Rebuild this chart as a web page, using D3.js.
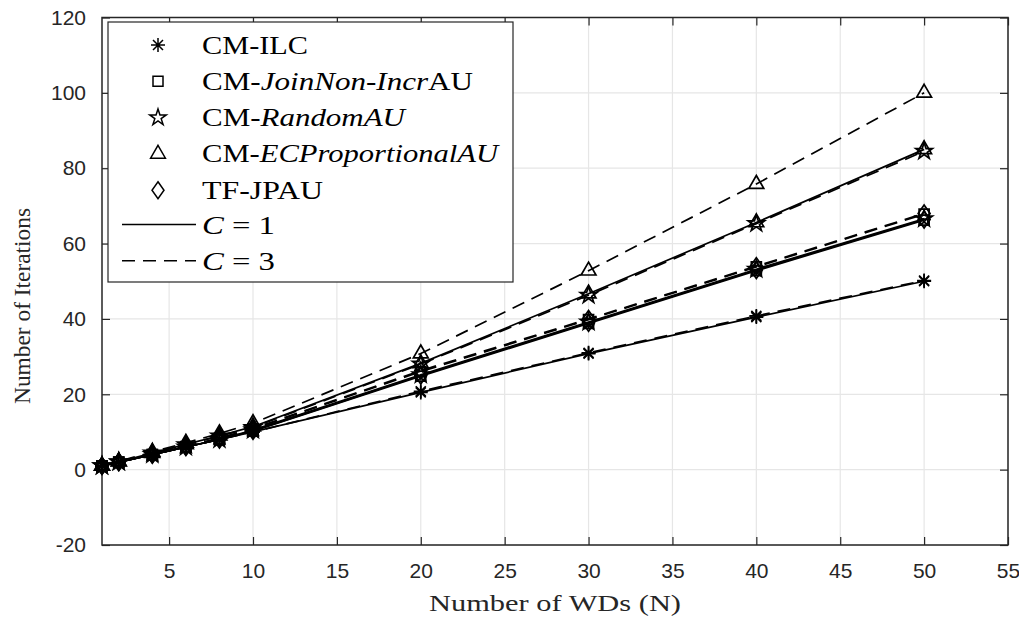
<!DOCTYPE html>
<html>
<head>
<meta charset="utf-8">
<script src="https://cdn.jsdelivr.net/npm/d3@7"></script>
<style>
  body { margin: 0; background: #fff; }
  svg { display: block; }
  .tick text { font-family: "Liberation Sans", Arial, sans-serif; font-size: 21px; fill: #262626; }
</style>
</head>
<body>
<div id="chart"></div>
<script>
// data
var nodes = [1, 2, 4, 6, 8, 10, 20, 30, 40, 50];
var xTicks = [5, 10, 15, 20, 25, 30, 35, 40, 45, 50, 55];
var yTicks = [-20, 0, 20, 40, 60, 80, 100, 120];

var ilcC1 = [1, 2, 4, 6, 8, 10, 20.5, 30.8, 40.5, 50];
var ilcC3 = [1, 2, 4, 6, 8, 10, 20.8, 31, 40.8, 50.2];
var joinC1 = [1, 2, 4, 6, 8, 10.2, 24.8, 38.8, 52.8, 66.2];
var joinC3 = [1, 2, 4, 6.1, 8.3, 10.8, 26, 39.8, 53.8, 67.8];
var randC1 = [1, 2, 4, 6, 8, 10.5, 25.2, 39.2, 53.2, 66.6];
var randC3 = [1, 2.1, 4.4, 6.6, 8.9, 11.2, 28, 46.3, 65.3, 84.5];
var ecpC1 = [1, 2.1, 4.4, 6.7, 9, 11.4, 28.2, 46.7, 65.6, 85];
var ecpC3 = [1, 2.2, 4.7, 7.1, 9.6, 12.3, 30.8, 52.8, 75.8, 100];
var jpauC1 = [1, 2, 4, 6, 8, 10.3, 25, 39, 53, 66.4];
var jpauC3 = [1, 2, 4, 6.2, 8.4, 10.9, 26.3, 40, 54, 68];

var seriesList = [
  { marker: "asterisk", dash: false, values: ilcC1 },
  { marker: "asterisk", dash: true, values: ilcC3 },
  { marker: "square", dash: false, values: joinC1 },
  { marker: "square", dash: true, values: joinC3 },
  { marker: "star", dash: false, values: randC1 },
  { marker: "star", dash: true, values: randC3 },
  { marker: "triangle", dash: false, values: ecpC1 },
  { marker: "triangle", dash: true, values: ecpC3 },
  { marker: "diamond", dash: false, values: jpauC1 },
  { marker: "diamond", dash: true, values: jpauC3 }
];

// legend labels: pieces of [text, italic]
var legendMarkers = ["asterisk", "square", "star", "triangle", "diamond"];
var legendLabels = [
  [["CM-ILC", false]],
  [["CM-", false], ["JoinNon-Incr", true], ["AU", false]],
  [["CM-", false], ["RandomAU", true]],
  [["CM-", false], ["ECProportionalAU", true]],
  [["TF-JPAU", false]]
];
var legendLengths = [106, 271, 203, 296, 121];

// chart setup
var svgWidth = 1019;
var svgHeight = 617;
var margin = { top: 17.5, right: 11, bottom: 72, left: 102 };
var width = svgWidth - margin.left - margin.right;
var height = svgHeight - margin.top - margin.bottom;
var axisColor = "#262626";
var serif = "'Liberation Serif', 'Times New Roman', serif";

var svg = d3.select("#chart")
  .append("svg")
  .attr("width", svgWidth)
  .attr("height", svgHeight);

var chartGroup = svg.append("g")
  .attr("transform", `translate(${margin.left}, ${margin.top})`);

var xScale = d3.scaleLinear().domain([1, 55]).range([0, width]);
var yScale = d3.scaleLinear().domain([-20, 120]).range([height, 0]);

// grid
chartGroup.append("g")
  .selectAll("line")
  .data(xTicks)
  .enter()
  .append("line")
  .attr("x1", d => xScale(d)).attr("x2", d => xScale(d))
  .attr("y1", 0).attr("y2", height)
  .attr("stroke", "#e6e6e6").attr("stroke-width", 1.2);

chartGroup.append("g")
  .selectAll("line")
  .data(yTicks)
  .enter()
  .append("line")
  .attr("x1", 0).attr("x2", width)
  .attr("y1", d => yScale(d)).attr("y2", d => yScale(d))
  .attr("stroke", "#e6e6e6").attr("stroke-width", 1.2);

// axes (ticks pointing in), plain hyphen for negatives
var plain = d => String(d);
var bottomAxis = d3.axisBottom(xScale).tickValues(xTicks).tickFormat(plain).tickSizeInner(-8).tickSizeOuter(0).tickPadding(18);
var leftAxis = d3.axisLeft(yScale).tickValues(yTicks).tickFormat(plain).tickSizeInner(-8).tickSizeOuter(0).tickPadding(16);
var topAxis = d3.axisTop(xScale).tickValues(xTicks).tickSizeInner(-8).tickSizeOuter(0).tickFormat("");
var rightAxis = d3.axisRight(yScale).tickValues(yTicks).tickSizeInner(-8).tickSizeOuter(0).tickFormat("");

chartGroup.append("g").attr("transform", `translate(0, ${height})`).call(bottomAxis);
chartGroup.append("g").call(leftAxis);
chartGroup.append("g").call(topAxis);
chartGroup.append("g").attr("transform", `translate(${width}, 0)`).call(rightAxis);

chartGroup.selectAll(".domain").remove();
chartGroup.selectAll(".tick line").attr("stroke", axisColor).attr("stroke-width", 1.2);

chartGroup.append("rect")
  .attr("width", width)
  .attr("height", height)
  .attr("fill", "none")
  .attr("stroke", axisColor)
  .attr("stroke-width", 1.5);

// marker paths
function markerPath(type) {
  if (type === "asterisk") {
    var r = 7, s = 5;
    return `M${-r},0L${r},0M0,${-r}L0,${r}M${-s},${-s}L${s},${s}M${-s},${s}L${s},${-s}`;
  }
  if (type === "square") return d3.symbol(d3.symbolSquare, 100)();
  if (type === "star") return d3.symbol(d3.symbolStar, 85)();
  if (type === "triangle") return d3.symbol(d3.symbolTriangle, 95)();
  if (type === "diamond") return "M0,-8.5L6,0L0,8.5L-6,0Z";
}

// lines
var line = d3.line()
  .x((d, i) => xScale(nodes[i]))
  .y(d => yScale(d));

var seriesGroup = chartGroup.selectAll(".series")
  .data(seriesList)
  .enter()
  .append("g")
  .attr("class", "series");

seriesGroup.append("path")
  .attr("d", d => line(d.values))
  .attr("fill", "none")
  .attr("stroke", "#000")
  .attr("stroke-width", 1.7)
  .attr("stroke-dasharray", d => d.dash ? "13,8" : null);

seriesGroup.selectAll(".pt")
  .data(d => d.values.map(v => ({ v: v, marker: d.marker })))
  .enter()
  .append("path")
  .attr("class", "pt")
  .attr("d", (d) => markerPath(d.marker))
  .attr("transform", (d, i) => `translate(${xScale(nodes[i])}, ${yScale(d.v)})`)
  .attr("fill", "none")
  .attr("stroke", "#000")
  .attr("stroke-width", 1.7);

// legend
var legend = svg.append("g").attr("transform", "translate(108, 22)");
legend.append("rect")
  .attr("width", 405)
  .attr("height", 260)
  .attr("fill", "#fff")
  .attr("stroke", axisColor)
  .attr("stroke-width", 1.2);

var rowStep = 36.3;
legendLabels.forEach(function(pieces, i) {
  var cy = 23 + i * rowStep;
  legend.append("path")
    .attr("d", markerPath(legendMarkers[i]))
    .attr("transform", `translate(50, ${cy})`)
    .attr("fill", "none")
    .attr("stroke", "#000")
    .attr("stroke-width", 1.5);
  var txt = legend.append("text")
    .attr("x", 94)
    .attr("y", cy + 8.5)
    .attr("font-family", serif)
    .attr("font-size", 26)
    .attr("fill", "#000")
    .attr("textLength", legendLengths[i])
    .attr("lengthAdjust", "spacingAndGlyphs");
  pieces.forEach(function(p) {
    txt.append("tspan").attr("font-style", p[1] ? "italic" : "normal").text(p[0]);
  });
});

var cLabels = ["1", "3"];
cLabels.forEach(function(c, j) {
  var cy = 23 + (5 + j) * rowStep - 2;
  legend.append("line")
    .attr("x1", 14).attr("x2", 88)
    .attr("y1", cy).attr("y2", cy)
    .attr("stroke", "#000")
    .attr("stroke-width", 1.5)
    .attr("stroke-dasharray", j === 1 ? "13,8" : null);
  var txt = legend.append("text")
    .attr("x", 94)
    .attr("y", cy + 9)
    .attr("font-family", serif)
    .attr("font-size", 26)
    .attr("fill", "#000")
    .attr("textLength", 73)
    .attr("lengthAdjust", "spacingAndGlyphs");
  txt.append("tspan").attr("font-style", "italic").text("C");
  txt.append("tspan").text(" = " + c);
});

// axis titles
svg.append("text")
  .attr("x", margin.left + width / 2)
  .attr("y", 611)
  .attr("text-anchor", "middle")
  .attr("font-family", serif)
  .attr("font-size", 23)
  .attr("fill", "#262626")
  .attr("textLength", 252)
  .attr("lengthAdjust", "spacingAndGlyphs")
  .text("Number of WDs (N)");

svg.append("text")
  .attr("transform", "translate(30, 306) rotate(-90)")
  .attr("text-anchor", "middle")
  .attr("font-family", serif)
  .attr("font-size", 23)
  .attr("fill", "#262626")
  .attr("textLength", 196)
  .attr("lengthAdjust", "spacingAndGlyphs")
  .text("Number of Iterations");
</script>
</body>
</html>
